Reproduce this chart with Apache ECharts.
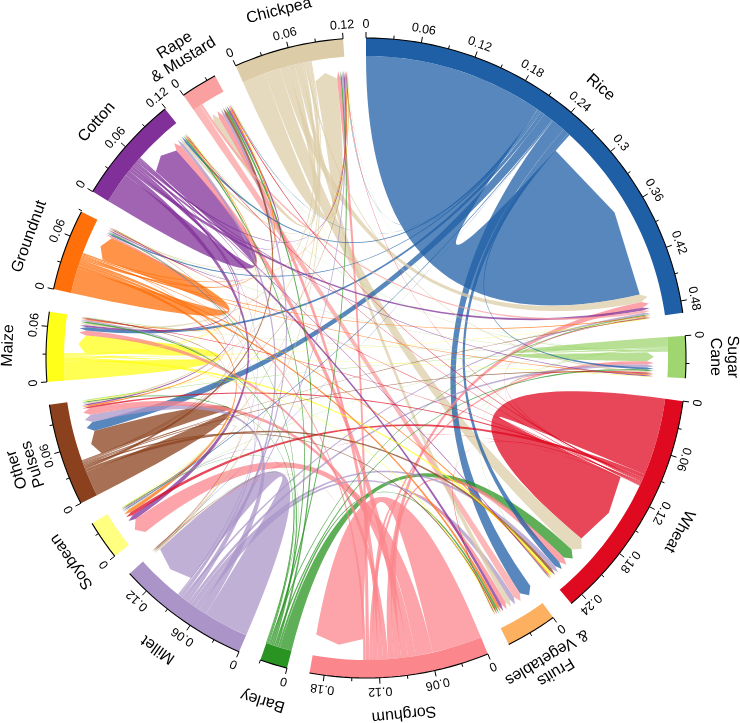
<!DOCTYPE html>
<html>
<head>
<meta charset="utf-8">
<style>html,body{margin:0;padding:0;background:#fff}#c{width:740px;height:723px}</style>
<script src="https://cdn.jsdelivr.net/npm/echarts@6/dist/echarts.min.js"></script>
</head>
<body>
<div id="c"></div>
<script>
var sectorNames = ['Rice','Sugar\nCane','Wheat','Fruits\n& Vegetables','Sorghum','Barley','Millet','Soybean','Other\nPulses','Maize','Groundnut','Cotton','Rape\n& Mustard','Chickpea'];
var sectorColors = ['#1F5FA6','#9FD670','#DF0A20','#FDB160','#FB868C','#2A9422','#AB95C8','#FFFF80','#8B411D','#FFFF1A','#FF6F0A','#803098','#FBA0A0','#DCCDA8'];
var sectorTotals = [0.493,0.046,0.255,0.056,0.196,0.030,0.146,0.043,0.112,0.076,0.089,0.119,0.040,0.120];
// flows leaving each crop, in thousandths, columns in sector order
var riceFlows      = [208,2.4,7,15.6,0,0,0.3,1.2,11,4.2,1.8,2.5,0.6,0.6];
var sugarFlows     = [0.9,11,0.6,0.6,0,0,0,0.6,0.9,0.6,0.6,0.6,0.3,0.3];
var wheatFlows     = [0.9,1.2,90,0.9,0,0,0.3,4.2,2.1,0.9,0.9,0.9,1.2,0.6];
var fruitFlows     = [0,0,0,0,0,0,0,0,0,0,0,0,0,0];
var sorghumFlows   = [7,4.2,7.8,5.6,58,0,0.6,20,8.4,6,2.4,8,6,4.2];
var barleyFlows    = [1.2,1.8,13.8,2.4,0,0,0.6,0.6,1.2,1.8,1.2,1.8,2.4,1.8];
var milletFlows    = [2.4,3.6,5.4,6,0,0,52,1.2,9,1.8,1.2,3.6,3,1.8];
var soybeanFlows   = [0,0,0,0,0,0,0,0,0,0,0,0,0,0];
var pulsesFlows    = [0.9,1.2,3.6,1.8,0,0,0.3,0.9,29,0.9,0.6,0.6,3,0.6];
var maizeFlows     = [0.6,0.6,3,1.2,0,0,0.3,0.6,1.2,22,0.3,0.6,0.6,0.6];
var groundnutFlows = [1.2,1.2,1.8,3,0,0,0.6,4,1.8,1.2,29,1.2,1.8,1.2];
var cottonFlows    = [3.6,1.2,1.2,3.6,0,0,0.6,6,1.8,2.4,1.2,36,2.4,1.8];
var rapeFlows      = [3,0,0,9,0,0,0,0,0,0,0,0,0,0];
var chickpeaFlows  = [9.6,1.8,18,6,0,0,1.8,1.8,1.8,2.4,1.2,3,7.8,27];
var flowRows = [riceFlows,sugarFlows,wheatFlows,fruitFlows,sorghumFlows,barleyFlows,milletFlows,soybeanFlows,pulsesFlows,maizeFlows,groundnutFlows,cottonFlows,rapeFlows,chickpeaFlows];
var minorStep = 0.03;

var n = sectorNames.length;
var GAP_DEG = 4.11;
var sum = sectorTotals.reduce(function(a,b){return a+b;},0);
var gap = sum*GAP_DEG/(360-n*GAP_DEG);
var axisMax = sum+n*gap;
var R_OUT=320,R_IN=302,R_ARROW=288,R_END=281;

var starts=[],acc=0;
for(var i=0;i<n;i++){starts.push(acc);acc+=sectorTotals[i]+gap;}

var links=[];
for(var i=0;i<n;i++){for(var j=0;j<n;j++){var v=flowRows[i][j];if(v>0)links.push({from:i,to:j,value:v/1000});}}
// both ends of a sector: the self flow first, then the others largest first.
// Rice alone leaves in ring order, anticlockwise round the circle.
var outCursor=starts.slice();
function order(self,key){return function(a,b){
  if(a[key]===self)return -1;if(b[key]===self)return 1;return b.value-a.value;};}
for(var i=0;i<n;i++){
  var out=links.filter(function(l){return l.from===i;});
  if(i===0)out.sort(function(a,b){return ((i-a.to+n)%n)-((i-b.to+n)%n);});
  else out.sort(order(i,'to'));
  var c=starts[i];
  out.forEach(function(l){l.a0=c;c+=l.value;l.a1=c;});
  outCursor[i]=c;
}
for(var i=0;i<n;i++){
  var inc=links.filter(function(l){return l.to===i;});
  inc.sort(order(i,'from'));
  var c=outCursor[i];
  inc.forEach(function(l){l.b0=c;c+=l.value;l.b1=c;});
}
links.sort(function(a,b){return b.value-a.value;});

function arcPts(api,r,a0,a1){
  var k=Math.max(2,Math.ceil(Math.abs(a1-a0)/axisMax*360/1.5)+1),p=[];
  for(var t=0;t<k;t++)p.push(api.coord([r,a0+(a1-a0)*t/(k-1)]).slice(0,2));
  return p;
}
function bez(api,A,B){
  var C=api.coord([0,0]),p=[];
  for(var t=1;t<40;t++){var u=t/40,w=1-u;
    p.push([w*w*A[0]+2*w*u*C[0]+u*u*B[0],w*w*A[1]+2*w*u*C[1]+u*u*B[1]]);}
  return p;
}
function renderLink(params,api){
  var l=links[params.dataIndex];
  var src=arcPts(api,R_IN,l.a0,l.a1);
  var b0=api.coord([R_END,l.b0]).slice(0,2),b1=api.coord([R_END,l.b1]).slice(0,2);
  var tip=api.coord([R_ARROW,(l.b0+l.b1)/2]).slice(0,2);
  var pts=src.concat(bez(api,src[src.length-1],b0),[b0,tip,b1],bez(api,b1,src[0]));
  return {type:'polygon',shape:{points:pts},style:{fill:sectorColors[l.from],opacity:0.75},silent:true};
}
function renderSector(params,api){
  var i=params.dataIndex,s=starts[i],e=s+sectorTotals[i],kids=[];
  var outer=arcPts(api,R_OUT,s,e),inner=arcPts(api,R_IN,s,e).reverse();
  kids.push({type:'polygon',shape:{points:outer.concat(inner)},style:{fill:sectorColors[i]}});
  kids.push({type:'polyline',shape:{points:outer},style:{stroke:'#000',lineWidth:1.1,fill:null}});
  for(var k=0;k*minorStep<=sectorTotals[i]+0.0015;k++){
    var a=s+k*minorStep,maj=k%2===0;
    var p0=api.coord([R_OUT,a]),p1=api.coord([R_OUT+(maj?6:3.5),a]);
    kids.push({type:'line',shape:{x1:p0[0],y1:p0[1],x2:p1[0],y2:p1[1]},style:{stroke:'#000',lineWidth:1}});
    if(maj){
      var pt=api.coord([R_OUT+13.5,a]),deg=a/axisMax*360;
      kids.push({type:'text',x:pt[0],y:pt[1],rotation:-deg*Math.PI/180,
        style:{x:0,y:0,text:String(+(k*minorStep).toFixed(2)),fill:'#000',font:'12.5px "Liberation Sans"',align:'center',verticalAlign:'middle'}});
    }
  }
  var mid=(s+e)/2,pm=api.coord([R_OUT+38,mid]);
  kids.push({type:'text',x:pm[0],y:pm[1],rotation:-(mid/axisMax*360)*Math.PI/180,
    style:{x:0,y:0,text:sectorNames[i],fill:'#000',font:'16px "Liberation Sans"',lineHeight:17,align:'center',verticalAlign:'middle'}});
  return {type:'group',children:kids,silent:true};
}
var chart=echarts.init(document.getElementById('c'),null,{renderer:'canvas'});
chart.setOption({
  animation:false,
  backgroundColor:'#fff',
  polar:{center:[366,358],radius:R_OUT},
  angleAxis:{type:'value',min:0,max:axisMax,startAngle:90,clockwise:true,show:false},
  radiusAxis:{type:'value',min:0,max:R_OUT,show:false},
  series:[
    {type:'custom',coordinateSystem:'polar',silent:true,renderItem:renderLink,
     data:links.map(function(l){return [R_IN,l.a0,l.value];}),z:2},
    {type:'custom',coordinateSystem:'polar',silent:true,renderItem:renderSector,
     data:sectorTotals.map(function(t,i){return [R_OUT,starts[i],t];}),z:3}
  ]
});
</script>
</body>
</html>
